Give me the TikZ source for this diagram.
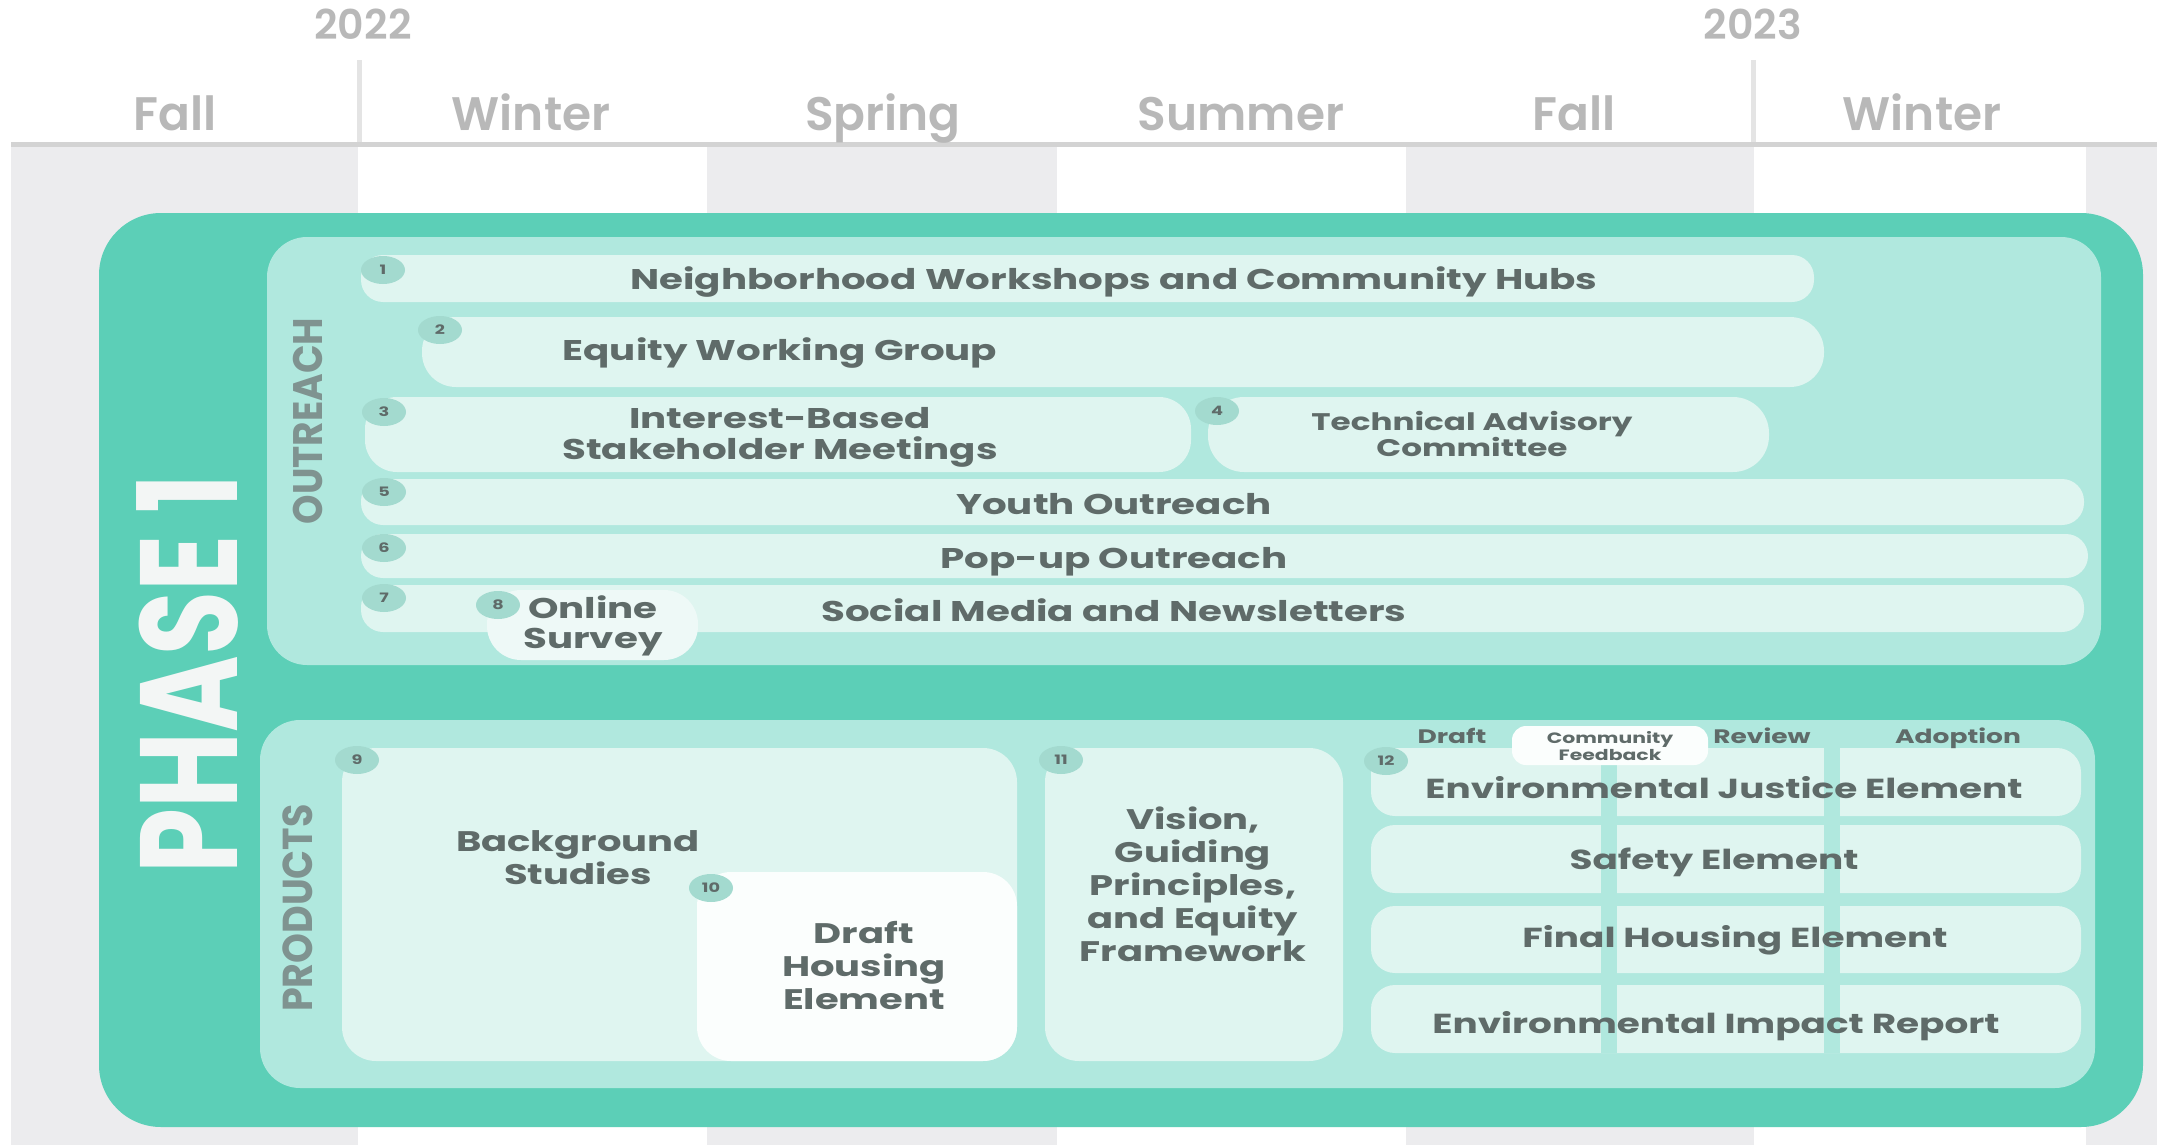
\documentclass[tikz,border=0pt]{standalone}
\usepackage{fontspec}
\usepackage{graphicx}
\setmainfont{Poppins}[FakeStretch=1.36, UprightFont=* Bold]
\newfontfamily\plainf{Poppins}[UprightFont=* SemiBold]
\newfontfamily\boldf{Poppins}[UprightFont=* Bold]
\usetikzlibrary{shapes.geometric}
\definecolor{colgray}{HTML}{ECECEE}
\definecolor{hdrtext}{HTML}{B8B8B8}
\definecolor{hdrline}{HTML}{D3D3D3}
\definecolor{vline}{HTML}{E4E4E4}
\definecolor{phase}{HTML}{5CCFB7}
\definecolor{panel}{HTML}{B0E8DE}
\definecolor{barc}{HTML}{DFF5F0}
\definecolor{badgec}{HTML}{A3DACF}
\definecolor{surveyc}{HTML}{EEF9F7}
\definecolor{whitebox}{HTML}{FBFEFD}
\definecolor{txt}{HTML}{5F6B69}
\definecolor{lbl}{HTML}{7F9390}
\definecolor{phtext}{HTML}{F3F6F5}
\tikzset{
  hdr/.style={text=hdrtext, font=\plainf\fontsize{47}{50}\selectfont, inner sep=0pt, anchor=base},
  yr/.style={text=hdrtext, font=\plainf\fontsize{41}{44}\selectfont, inner sep=0pt, anchor=base},
  bartext/.style={text=txt, font=\fontsize{28.5}{31}\selectfont, inner sep=0pt, align=center},
  rowtext/.style={text=txt, font=\fontsize{27.5}{31}\selectfont, inner sep=0pt, anchor=base},
  prodtext/.style={text=txt, font=\fontsize{28.3}{33}\selectfont, inner sep=0pt, align=center},
  smalltext/.style={text=txt, font=\fontsize{19.5}{22}\selectfont, inner sep=0pt, anchor=base},
  badgenode/.style={ellipse, fill=badgec, minimum width=44pt, minimum height=28pt, inner sep=0pt, text=txt, font=\fontsize{13}{13}\selectfont},
  barfill/.style={fill=barc, rounded corners=22pt},
  secbox/.style={fill=panel, rounded corners=40pt},
  seclabel/.style={rotate=90, text=lbl, inner sep=0pt},
}
\begin{document}
\begin{tikzpicture}[x=1pt,y=-1pt]
\useasboundingbox (0,0) rectangle (2161,1145);
\fill[white] (0,0) rectangle (2161,1145);
% season columns
\fill[colgray] (11,147) rectangle (358,1145);
\fill[colgray] (707,147) rectangle (1057,1145);
\fill[colgray] (1406,147) rectangle (1754,1145);
\fill[colgray] (2086,147) rectangle (2157,1145);
\fill[hdrline] (11,142) rectangle (2157,147);
\fill[vline] (357,60) rectangle (362,142);
\fill[vline] (1751,60) rectangle (1756,142);
% header
\node[yr] (y22) at (363,40) {2022};
\node[yr] (y23) at (1753,40) {2023};
\node[hdr] (s1) at (175,131) {Fall};
\node[hdr] (s2) at (531,131) {Winter};
\node[hdr] (s3) at (883,131) {Spring};
\node[hdr] (s4) at (1241,131) {Summer};
\node[hdr] (s5) at (1574,131) {Fall};
\node[hdr] (s6) at (1922,131) {Winter};
% phase box
\fill[phase, rounded corners=62pt] (99,213) rectangle (2143,1127);
\node[rotate=90, text=phtext, inner sep=0pt] (ph) at (187,674) {\scalebox{1}[1.33]{\boldf\fontsize{104}{104}\selectfont PHASE 1}};
% outreach panel
\fill[secbox] (267,237) rectangle (2101,665);
\node[seclabel] (outl) at (308,421) {\scalebox{1}[1.1]{\boldf\fontsize{37.5}{37.5}\selectfont OUTREACH}};
\path[barfill] (361,255) rectangle (1814,302);
\path[barfill, rounded corners=34pt] (422,317) rectangle (1824,387);
\path[barfill, rounded corners=32pt] (365,397) rectangle (1191,472);
\path[barfill, rounded corners=36pt] (1208,397) rectangle (1769,472);
\path[barfill] (361,479) rectangle (2084,525);
\path[barfill] (361,534) rectangle (2088,578);
\path[barfill] (361,585) rectangle (2084,632);
\path[fill=surveyc, rounded corners=34pt] (487,590) rectangle (698,660);
\node[badgenode] (b1) at (383,270) {1};
\node[badgenode] (b2) at (440,330) {2};
\node[badgenode] (b3) at (384,412) {3};
\node[badgenode] (b4) at (1217,411) {4};
\node[badgenode] (b5) at (384,492) {5};
\node[badgenode] (b6) at (384,548) {6};
\node[badgenode] (b7) at (384,598) {7};
\node[badgenode] (b8) at (498,605) {8};
\node[bartext, anchor=base] (t1) at (1114,289) {Neighborhood Workshops and Community Hubs};
\node[bartext, anchor=base] (t2) at (780,360) {Equity Working Group};
\node[bartext] (t3) at (780,437) {Interest-Based\\Stakeholder Meetings};
\node[text=txt, font=\fontsize{24}{24}\selectfont, inner sep=0pt, align=center] (t4) at (1472,434) {Technical Advisory\\Committee};
\node[bartext, anchor=base] (t5) at (1114,514) {Youth Outreach};
\node[bartext, anchor=base] (t6) at (1114,568) {Pop-up Outreach};
\node[bartext, anchor=base] (t7) at (1114,621) {Social Media and Newsletters};
\node[bartext, font=\fontsize{28.5}{30}\selectfont] (t8) at (593,626) {Online\\Survey};
% products panel
\fill[secbox] (260,720) rectangle (2095,1088);
\node[seclabel] (prl) at (298,908) {\scalebox{1}[1.1]{\boldf\fontsize{38}{38}\selectfont PRODUCTS}};
\path[fill=barc, rounded corners=34pt] (342,748) rectangle (1017,1061);
\path[fill=whitebox, rounded corners=34pt] (697,872) rectangle (1017,1061);
\path[fill=barc, rounded corners=34pt] (1045,748) rectangle (1343,1061);
\foreach \ya/\yb in {748/816, 825/893, 906/973, 985/1053}{
  \path[fill=barc, rounded corners=24pt] (1371,\ya) rectangle (2081,\yb);
}
\fill[panel] (1601,748) rectangle (1617,1053);
\fill[panel] (1824,748) rectangle (1840,1053);
\path[fill=whitebox, rounded corners=14pt] (1512,726) rectangle (1708,765);
\node[badgenode] (b9) at (357,760) {9};
\node[badgenode] (b10) at (711,888) {10};
\node[badgenode] (b11) at (1061,760) {11};
\node[badgenode] (b12) at (1386,761) {12};
\node[prodtext] (t9) at (578,858) {Background\\Studies};
\node[prodtext] (t10) at (864,966) {Draft\\Housing\\Element};
\node[prodtext] (t11) at (1193,884) {Vision,\\Guiding\\Principles,\\and Equity\\Framework};
\node[smalltext] (hd) at (1452,743) {Draft};
\node[text=txt, font=\fontsize{15}{17}\selectfont, inner sep=0pt, align=center] (hcf) at (1610,746) {Community\\Feedback};
\node[smalltext] (hr) at (1762,743) {Review};
\node[smalltext] (ha) at (1958,743) {Adoption};
\node[rowtext] (r1) at (1724,798) {Environmental Justice Element};
\node[rowtext] (r2) at (1714,869) {Safety Element};
\node[rowtext] (r3) at (1735,947) {Final Housing Element};
\node[rowtext] (r4) at (1716,1033) {Environmental Impact Report};
\end{tikzpicture}
\end{document}
